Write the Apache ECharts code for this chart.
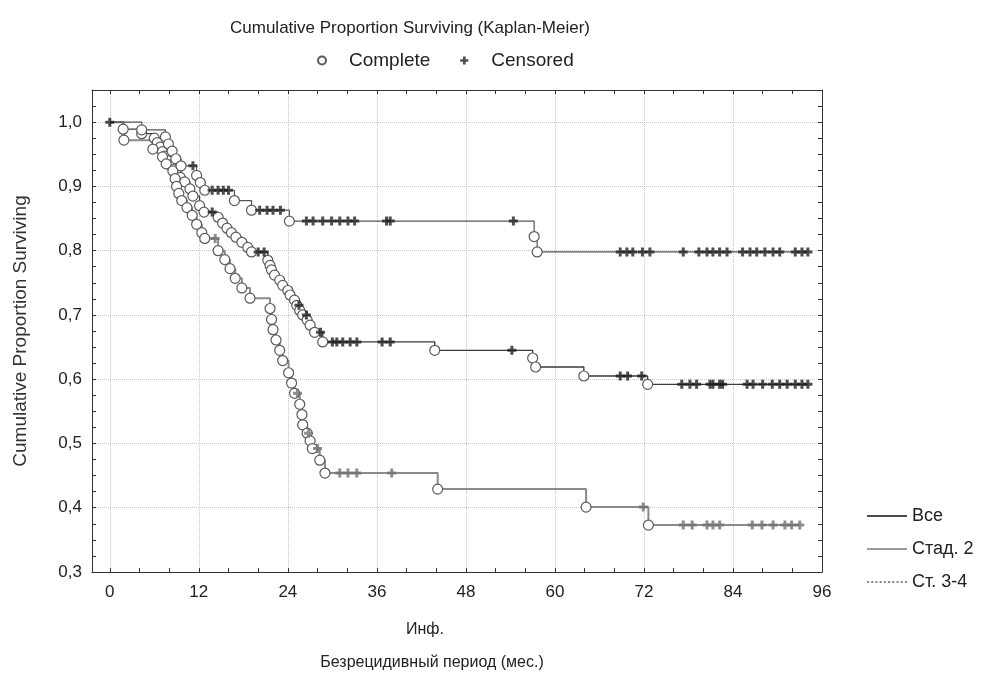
<!DOCTYPE html>
<html>
<head>
<meta charset="utf-8">
<script src="https://cdn.jsdelivr.net/npm/echarts@6/dist/echarts.min.js"></script>
<style>
html, body { margin: 0; padding: 0; background: #fff; }
#chart { width: 1006px; height: 675px; }
</style>
</head>
<body>
<div id="chart"></div>
<script>
const FONT = 'Liberation Sans';

// axis labels
const xTicks = [0, 12, 24, 36, 48, 60, 72, 84, 96];
const yTicks = [0.3, 0.4, 0.5, 0.6, 0.7, 0.8, 0.9, 1.0];

// [month, proportion surviving] at each complete (event) observation
const allEvents = [[1.8,0.989],[4.3,0.982],[6.0,0.975],[6.4,0.968],[6.8,0.961],[7.1,0.954],[7.4,0.947],
  [7.8,0.940],[8.2,0.933],[8.6,0.926],[9.0,0.920],[9.5,0.914],[10.1,0.907],[10.8,0.896],[11.2,0.885],
  [12.1,0.870],[12.7,0.860],[14.6,0.852],[15.2,0.843],[15.8,0.835],[16.4,0.828],[17.0,0.821],[17.8,0.813],
  [18.6,0.805],[19.1,0.798],[21.3,0.785],[21.6,0.777],[21.8,0.770],[22.2,0.762],[22.9,0.754],[23.3,0.746],
  [24.0,0.738],[24.3,0.731],[24.9,0.723],[25.2,0.715],[25.6,0.707],[26.0,0.700],[26.6,0.692],[27.0,0.684],
  [27.6,0.673],[28.7,0.658],[43.8,0.645],[57.0,0.633],[57.4,0.619],[63.9,0.605],[72.5,0.592]];
const stage2Events = [[1.9,0.972],[5.8,0.958],[7.1,0.946],[7.6,0.935],[8.5,0.924],[8.8,0.912],[9.0,0.900],
  [9.3,0.889],[9.7,0.878],[10.4,0.867],[11.1,0.855],[11.7,0.841],[12.4,0.828],[12.8,0.819],[14.6,0.800],
  [15.5,0.786],[16.2,0.772],[16.9,0.757],[17.8,0.742],[18.9,0.726],[21.6,0.710],[21.8,0.693],[22.0,0.677],
  [22.4,0.661],[22.9,0.645],[23.3,0.629],[24.1,0.610],[24.5,0.594],[24.9,0.578],[25.6,0.561],[25.9,0.545],
  [26.0,0.529],[26.6,0.516],[27.0,0.504],[27.3,0.492],[28.3,0.474],[29.0,0.454],[44.2,0.429],[64.2,0.401],
  [72.6,0.373]];
const stage34Events = [[4.3,0.988],[7.5,0.977],[7.9,0.966],[8.4,0.955],[8.9,0.943],[9.6,0.932],[11.7,0.917],
  [12.2,0.906],[12.8,0.894],[16.8,0.878],[19.1,0.863],[24.2,0.846],[57.2,0.822],[57.6,0.798]];

// months of censored observations
const allCensored = [0,13.8,20.0,20.8,25.5,26.5,28.4,30.0,30.6,31.4,32.4,33.3,36.7,37.8,54.2,68.8,69.8,71.7,
  77.1,78.2,79.1,80.9,81.3,82.2,82.6,85.9,86.7,88.0,89.3,90.3,91.3,92.4,93.3,94.1];
const stage2Censored = [14.2,25.3,26.8,28.0,31.0,32.1,33.3,38.0,71.9,77.3,78.5,80.5,81.3,82.2,86.6,87.9,
  89.4,91.0,91.9,93.0];
const stage34Censored = [11.2,13.8,14.6,15.3,16.0,20.2,21.2,22.0,23.0,26.5,27.4,28.7,29.9,31.0,32.1,33.0,
  37.3,37.8,54.4,68.8,69.7,70.5,71.8,72.8,77.3,79.4,80.5,81.3,82.2,83.2,85.3,86.3,87.2,88.3,89.4,90.3,
  92.4,93.3,94.1];

const groups = [
  { name: 'Все', events: allEvents, censored: allCensored, color: '#3a3a3a', width: 1.3, mark: '#1e1e1e' },
  { name: 'Стад. 2', events: stage2Events, censored: stage2Censored, color: '#8a8a8a', width: 2, mark: '#707070' },
  { name: 'Ст. 3-4', events: stage34Events, censored: stage34Censored, color: '#555555', width: 1.2, mark: '#222222' },
];

const survivalAt = (events, t) => {
  let s = 1;
  events.forEach(([te, se]) => { if (te <= t) s = se; });
  return s;
};

const stepData = (g) => {
  const end = g.censored[g.censored.length - 1];
  return [[0, 1]].concat(g.events, [[end, survivalAt(g.events, end)]]);
};

const xMin = -2.4, xMax = 96, yMin = 0.3, yMax = 1.05;
const xMinor = [], yMinor = [];
for (let i = 0; i <= 24; i++) xMinor.push(i * 4);
for (let i = 12; i <= 42; i++) yMinor.push(+(i * 0.025).toFixed(3));

const plusPath = 'path://M3,0H6V3H9V6H6V9H3V6H0V3H3Z';
const solidIcon = 'path://M0,0H40V1H0Z';
let dotted = 'path://';
for (let i = 0; i < 10; i++) dotted += 'M' + (i * 4) + ',0h2v1h-2Z';

const lineSeries = groups.map(g => ({
  name: g.name,
  type: 'line',
  step: 'end',
  symbol: 'none',
  z: 2,
  lineStyle: { color: g.color, width: g.width },
  itemStyle: { color: g.color },
  data: stepData(g),
}));

const completeData = [];
const censoredData = [];
groups.forEach(g => {
  g.events.forEach(e => completeData.push(e));
  g.censored.forEach(t => censoredData.push({ value: [t, survivalAt(g.events, t)], itemStyle: { color: g.mark } }));
});

const tickLine = { color: '#333', width: 1 };
const centered = { fill: '#222', align: 'center', verticalAlign: 'middle', textAlign: 'center', textVerticalAlign: 'middle' };

const option = {
  backgroundColor: '#fff',
  animation: false,
  textStyle: { fontFamily: FONT },
  grid: { left: 92, right: 184, top: 90, bottom: 103, outerBoundsMode: 'none' },
  legend: [
    {
      data: ['Complete', 'Censored'],
      left: 312, top: 46,
      itemWidth: 44, itemHeight: 8, itemGap: 30,
      textStyle: { fontFamily: FONT, fontSize: 19, color: '#222' },
    },
    {
      data: [
        { name: 'Все', icon: solidIcon, itemStyle: { color: '#4a4a4a' } },
        { name: 'Стад. 2', icon: solidIcon, itemStyle: { color: '#9a9a9a' } },
        { name: 'Ст. 3-4', icon: dotted, itemStyle: { color: '#8a8a8a' } },
      ],
      orient: 'vertical',
      left: 862, top: 502,
      itemWidth: 40, itemHeight: 2, itemGap: 15, symbolKeepAspect: false,
      textStyle: { fontFamily: FONT, fontSize: 18, color: '#222' },
    },
  ],
  graphic: [
    { type: 'text', x: 410, y: 28, style: Object.assign({ text: 'Cumulative Proportion Surviving (Kaplan-Meier)', font: '17px "Liberation Sans"' }, centered) },
    { type: 'text', x: 425, y: 630, style: Object.assign({ text: 'Инф.', font: '16px "Liberation Sans"' }, centered) },
    { type: 'text', x: 432, y: 663, style: Object.assign({ text: 'Безрецидивный период (мес.)', font: '16px "Liberation Sans"' }, centered) },
  ],
  xAxis: [
    {
      type: 'value', min: xMin, max: xMax, position: 'bottom',
      axisLine: { show: true, onZero: false, lineStyle: tickLine },
      axisTick: { show: true, inside: true, length: 4, customValues: xMinor, lineStyle: tickLine },
      axisLabel: { customValues: xTicks, fontFamily: FONT, fontSize: 17, color: '#222', margin: 12 },
      splitLine: { show: false },
    },
    {
      type: 'value', min: xMin, max: xMax, position: 'bottom',
      axisLine: { show: false },
      axisTick: { show: false, customValues: xTicks.slice(0, -1) },
      axisLabel: { show: false },
      splitLine: { show: true, lineStyle: { color: '#c8c8c8', type: 'dotted', width: 1 } },
    },
    {
      type: 'value', min: xMin, max: xMax, position: 'top',
      axisLine: { show: true, onZero: false, lineStyle: tickLine },
      axisTick: { show: true, inside: true, length: 4, customValues: xMinor, lineStyle: tickLine },
      axisLabel: { show: false },
      splitLine: { show: false },
    },
  ],
  yAxis: [
    {
      type: 'value', min: yMin, max: yMax, position: 'left',
      name: 'Cumulative Proportion Surviving', nameLocation: 'middle', nameGap: 62,
      nameTextStyle: { fontFamily: FONT, fontSize: 19, color: '#333' },
      axisLine: { show: true, onZero: false, lineStyle: tickLine },
      axisTick: { show: true, inside: true, length: 4, customValues: yMinor, lineStyle: tickLine },
      axisLabel: { customValues: yTicks, fontFamily: FONT, fontSize: 17, color: '#222', margin: 10,
        formatter: v => v.toFixed(1).replace('.', ',') },
      splitLine: { show: false },
    },
    {
      type: 'value', min: yMin, max: yMax, position: 'left',
      axisLine: { show: false },
      axisTick: { show: false, customValues: yTicks.slice(1) },
      axisLabel: { show: false },
      splitLine: { show: true, lineStyle: { color: '#c8c8c8', type: 'dotted', width: 1 } },
    },
    {
      type: 'value', min: yMin, max: yMax, position: 'right',
      axisLine: { show: true, onZero: false, lineStyle: tickLine },
      axisTick: { show: true, inside: true, length: 4, customValues: yMinor, lineStyle: tickLine },
      axisLabel: { show: false },
      splitLine: { show: false },
    },
  ],
  series: lineSeries.concat([
    {
      name: 'Complete',
      type: 'scatter',
      symbol: 'circle',
      symbolSize: 10,
      z: 3,
      itemStyle: { color: '#fff', borderColor: '#5a5a5a', borderWidth: 1.2, opacity: 1 },
      data: completeData,
    },
    {
      name: 'Censored',
      type: 'scatter',
      symbol: plusPath,
      symbolSize: 9,
      z: 4,
      itemStyle: { color: '#222' },
      data: censoredData,
    },
  ]),
};

const chart = echarts.init(document.getElementById('chart'));
chart.setOption(option);
</script>
</body>
</html>
